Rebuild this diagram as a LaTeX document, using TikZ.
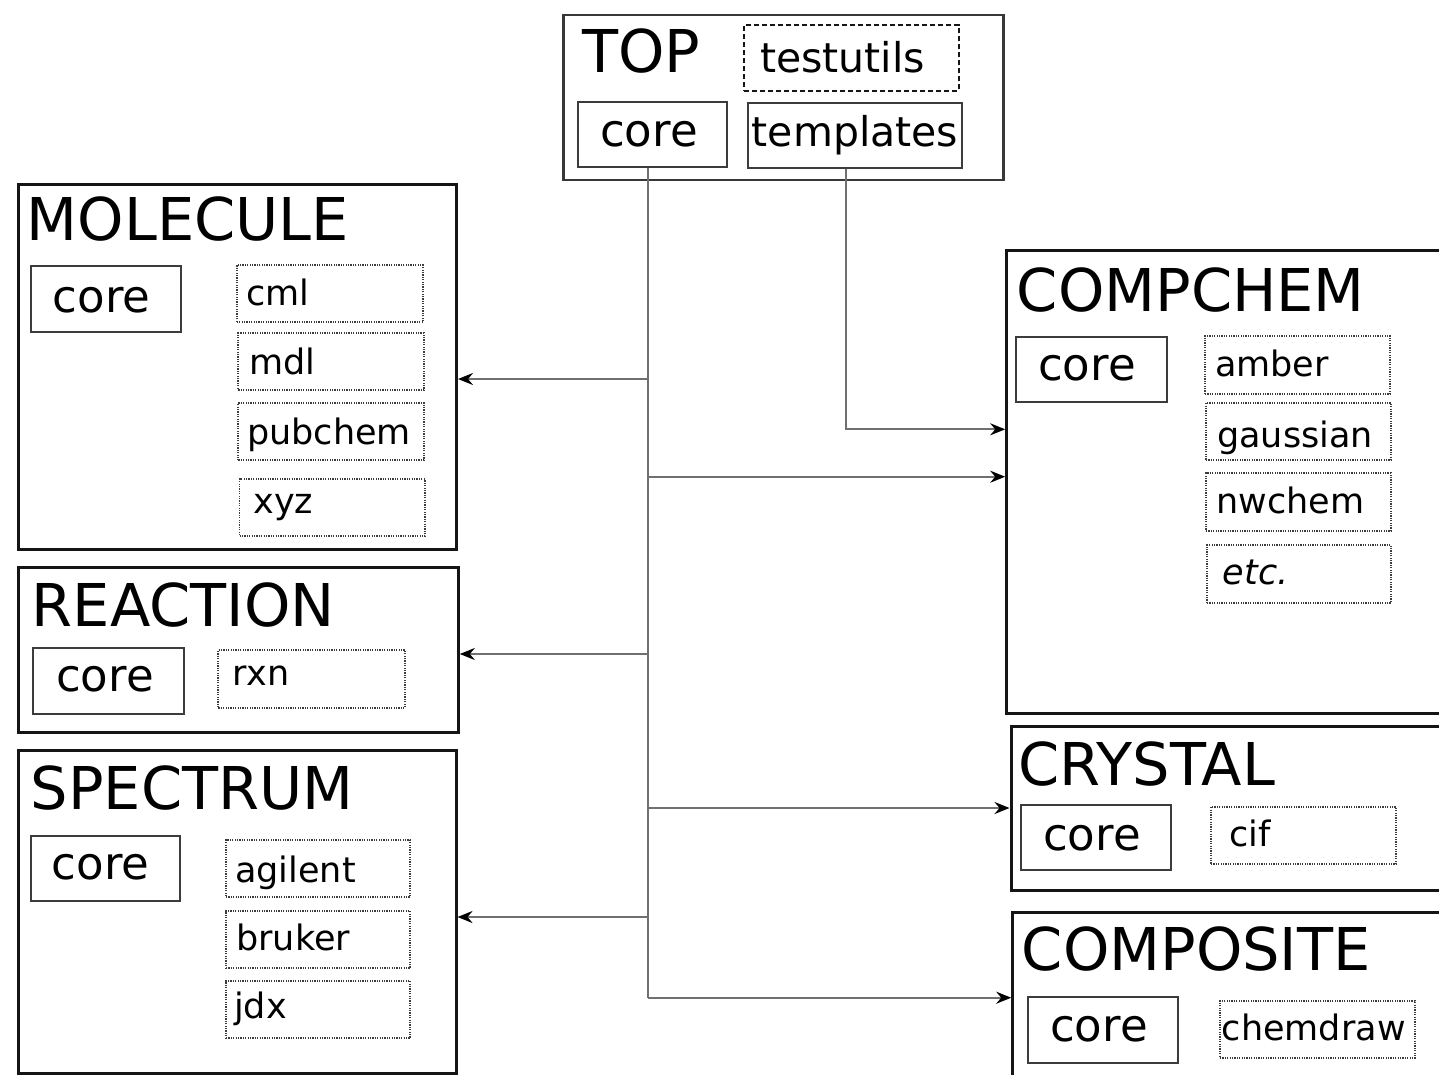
\documentclass[tikz,border=0pt]{standalone}
\usepackage{fontspec}
\setmainfont{DejaVu Sans}
\usetikzlibrary{arrows.meta,fit}

\definecolor{frame}{HTML}{151515}
\definecolor{inner}{HTML}{3C3C3C}
\definecolor{link}{HTML}{707070}

\tikzset{
  pkg/.style={draw=frame, line width=3pt, inner sep=0pt},
  topframe/.style={draw=frame!85, line width=2.6pt, inner sep=0pt},
  corebox/.style={draw=inner, line width=2.3pt, inner sep=0pt},
  modbox/.style={draw=inner, line width=1.9pt, dash pattern=on 1.2pt off 1.2pt, inner sep=0pt},
  optbox/.style={draw=frame, line width=2.3pt, dash pattern=on 5pt off 3pt, inner sep=0pt},
  head/.style={anchor=base west, inner sep=0pt, font=\fontsize{59}{60}\selectfont},
  corelbl/.style={anchor=base west, inner sep=0pt, font=\fontsize{45}{46}\selectfont},
  toplbl/.style={anchor=base west, inner sep=0pt, font=\fontsize{41}{42}\selectfont},
  modlbl/.style={anchor=base west, inner sep=0pt, font=\fontsize{35}{36}\selectfont},
  link/.style={draw=link, line width=2.2pt},
  tip/.style={-{Stealth[length=15pt,width=12pt,inset=5pt,color=black]}}
}

\begin{document}
\begin{tikzpicture}[x=1pt,y=-1pt]
\useasboundingbox (0,0) rectangle (1439,1074);

% ---- TOP package ----
\node[topframe, fit={(563.3,15) (1003.3,180)}] (top) {};
\node[head] (topT) at (582,72) {TOP};
\node[optbox, fit={(744.3,25) (959,90.7)}] (tutil) {};
\node[toplbl] (tutilT) at (760,72.7) {testutils};
\node[corebox, fit={(577.7,101.7) (726.7,166.7)}] (tcore) {};
\node[corelbl] (tcoreT) at (600,146.7) {core};
\node[corebox, fit={(747.7,103.3) (961.7,168.3)}] (ttpl) {};
\node[toplbl] (ttplT) at (751.7,146.7) {templates};

% ---- MOLECULE ----
\node[pkg, fit={(18.3,184.3) (456.5,549.5)}] (mol) {};
\node[head] (molT) at (26.7,240.7) {MOLECULE};
\node[corebox, fit={(30.7,265.7) (180.7,331.7)}] (mcore) {};
\node[corelbl] (mcoreT) at (52.7,312) {core};
\node[modbox, fit={(236.7,265) (422.7,322.3)}] (cml) {};
\node[modlbl] (cmlT) at (246,305) {cml};
\node[modbox, fit={(238.3,333.3) (424,390)}] (mdl) {};
\node[modlbl] (mdlT) at (249,374) {mdl};
\node[modbox, fit={(238.3,403) (424,460)}] (pubchem) {};
\node[modlbl] (pubchemT) at (247,444) {pubchem};
\node[modbox, fit={(239.5,479.3) (425,536)}] (xyz) {};
\node[modlbl] (xyzT) at (253.3,513.3) {xyz};

% ---- REACTION ----
\node[pkg, fit={(18.3,567.3) (458.3,732.7)}] (rea) {};
\node[head] (reaT) at (31.7,626.7) {REACTION};
\node[corebox, fit={(33.3,648.3) (184,714)}] (rcore) {};
\node[corelbl] (rcoreT) at (56,691.7) {core};
\node[modbox, fit={(218.3,650) (405,707.7)}] (rxn) {};
\node[modlbl] (rxnT) at (232.7,685) {rxn};

% ---- SPECTRUM ----
\node[pkg, fit={(18,750) (456,1073)}] (spe) {};
\node[head] (speT) at (30.7,809) {SPECTRUM};
\node[corebox, fit={(30.7,835.7) (180,901)}] (score) {};
\node[corelbl] (scoreT) at (51.7,879) {core};
\node[modbox, fit={(226,840) (410,897)}] (agilent) {};
\node[modlbl] (agilentT) at (235,882.7) {agilent};
\node[modbox, fit={(226,910.7) (410,968.3)}] (bruker) {};
\node[modlbl] (brukerT) at (236,950.7) {bruker};
\node[modbox, fit={(226,980.7) (410,1038.3)}] (jdx) {};
\node[modlbl] (jdxT) at (234,1018.3) {jdx};

% ---- COMPCHEM ----
\node[pkg, fit={(1006.7,250) (1452,713.3)}] (cc) {};
\node[head] (ccT) at (1016.7,311.7) {COMPCHEM};
\node[corebox, fit={(1016,336.7) (1166.7,402.3)}] (ccore) {};
\node[corelbl] (ccoreT) at (1038,380) {core};
\node[modbox, fit={(1205,336) (1390,394)}] (amber) {};
\node[modlbl] (amberT) at (1215,376.7) {amber};
\node[modbox, fit={(1206,403) (1391,460)}] (gaussian) {};
\node[modlbl] (gaussianT) at (1217,447) {gaussian};
\node[modbox, fit={(1206,473.3) (1391,530.7)}] (nwchem) {};
\node[modlbl] (nwchemT) at (1216,513.3) {nwchem};
\node[modbox, fit={(1207,545) (1391,602.7)}] (etc) {};
\node[modlbl] (etcT) at (1222.7,584) {\itshape etc.};

% ---- CRYSTAL ----
\node[pkg, fit={(1011,726.7) (1452,890)}] (cry) {};
\node[head] (cryT) at (1018,785) {CRYSTAL};
\node[corebox, fit={(1021,805) (1171,870)}] (crcore) {};
\node[corelbl] (crcoreT) at (1043,850) {core};
\node[modbox, fit={(1211,807) (1396,864)}] (cif) {};
\node[modlbl] (cifT) at (1229,846) {cif};

% ---- COMPOSITE ----
\node[pkg, fit={(1012.7,912.7) (1452,1082)}] (cmp) {};
\node[head] (cmpT) at (1021.7,970) {COMPOSITE};
\node[corebox, fit={(1028,997) (1178,1063)}] (cpcore) {};
\node[corelbl] (cpcoreT) at (1050,1041.7) {core};
\node[modbox, fit={(1220,1001) (1415,1058)}] (chemdraw) {};
\node[modlbl] (chemdrawT) at (1221.7,1040) {chemdraw};

% ---- dependency connectors ----
\coordinate (trunkx) at (648,0);
\coordinate (trunkend) at (648,997.7);
\draw[link] (trunkx |- tcore.south) -- (trunkend);
\coordinate (bmol) at (648,379);
\coordinate (bcc)  at (648,476.7);
\coordinate (brea) at (648,654);
\coordinate (bcry) at (648,808);
\coordinate (bspe) at (648,917);
\draw[link,tip] (bmol) -- (bmol -| mol.east);
\draw[link,tip] (bcc)  -- (bcc -| cc.west);
\draw[link,tip] (brea) -- (brea -| rea.east);
\draw[link,tip] (bcry) -- (bcry -| cry.west);
\draw[link,tip] (bspe) -- (bspe -| spe.east);
\draw[link,tip] (trunkend) -- (trunkend -| cmp.west);

\coordinate (tplx) at (846,0);
\coordinate (tplbend) at (846,429.3);
\draw[link,tip] (tplx |- ttpl.south) -- (tplbend) -- (tplbend -| cc.west);
\end{tikzpicture}
\end{document}
